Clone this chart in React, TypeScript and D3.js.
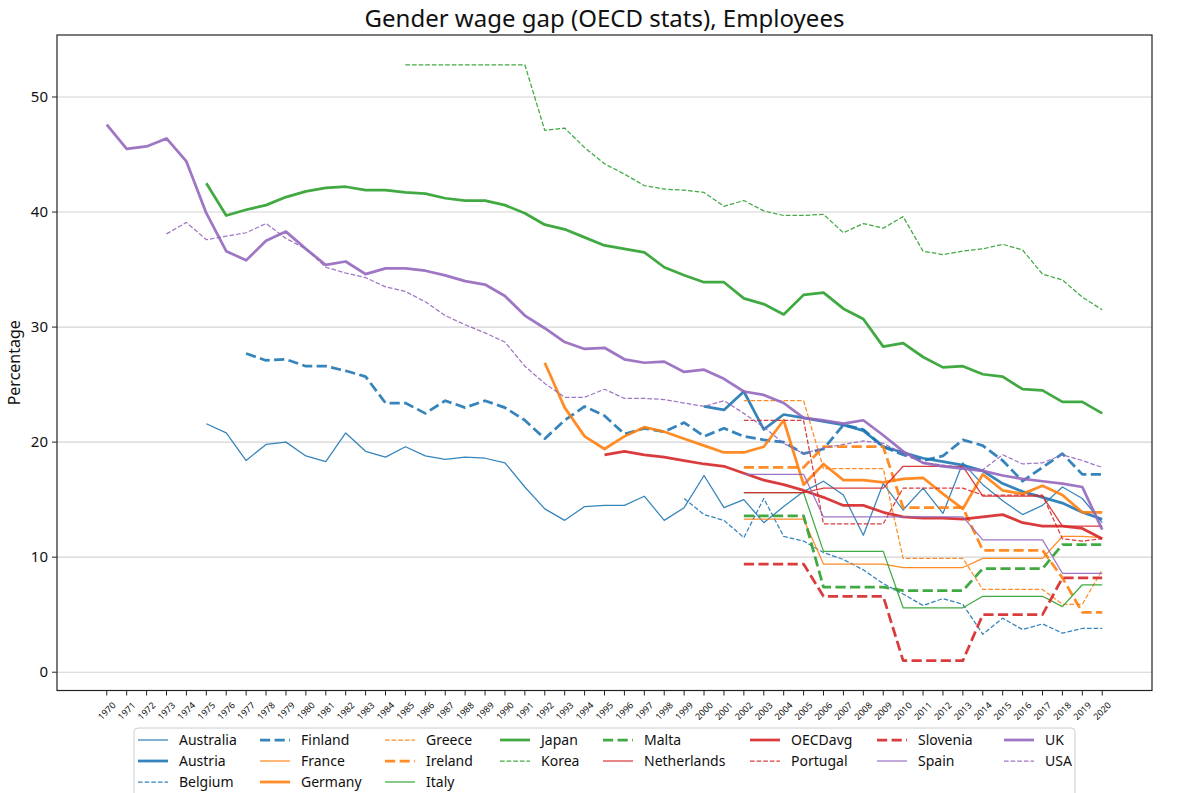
import { useEffect, useRef } from 'react';
import * as d3 from 'd3';

// years on the x axis
const years = d3.range(1970, 2021);
const yTicks = [0, 10, 20, 30, 40, 50];

// gender wage gap (%) per country, each list starts at the given year
const australia = [21.6, 20.8, 18.4, 19.8, 20.0, 18.8, 18.3, 20.8, 19.2, 18.7, 19.6, 18.8, 18.5, 18.7, 18.6, 18.2, 16.1, 14.2, 13.2, 14.4, 14.5, 14.5, 15.3, 13.2, 14.3, 17.1, 14.3, 15.0, 13.0, 14.4, 15.7, 16.6, 15.4, 11.9, 16.4, 14.1, 16.0, 13.8, 18.2, 16.3, 14.9, 13.7, 14.5, 16.1, 15.1, 13.0];
const austria = [23.1, 22.8, 24.4, 21.1, 22.4, 22.1, 21.8, 21.5, 21.0, 19.6, 19.1, 18.6, 18.3, 18.0, 17.5, 16.4, 15.7, 15.2, 14.7, 13.9, 13.3];
const belgium = [15.1, 13.7, 13.2, 11.7, 15.1, 11.8, 11.4, 10.4, 9.8, 8.9, 7.7, 6.8, 5.8, 6.4, 5.9, 3.3, 4.7, 3.7, 4.2, 3.4, 3.8, 3.8];
const finland = [27.7, 27.1, 27.2, 26.6, 26.6, 26.2, 25.7, 23.4, 23.4, 22.5, 23.6, 23.0, 23.6, 23.0, 21.9, 20.3, 21.9, 23.1, 22.3, 20.7, 21.2, 20.9, 21.7, 20.5, 21.2, 20.5, 20.2, 20.0, 19.0, 19.4, 21.5, 21.1, 19.6, 18.9, 18.4, 18.8, 20.2, 19.7, 18.4, 16.6, 17.8, 19.0, 17.2, 17.2];
const france = [13.3, 13.3, 13.3, 13.3, 9.4, 9.4, 9.4, 9.4, 9.1, 9.1, 9.1, 9.1, 9.9, 9.9, 9.9, 9.9, 11.8, 11.8, 11.7];
const germany = [26.9, 23.0, 20.5, 19.4, 20.5, 21.3, 20.9, 20.3, 19.7, 19.1, 19.1, 19.6, 21.9, 16.3, 18.1, 16.7, 16.7, 16.5, 16.8, 16.9, 15.5, 14.2, 17.2, 15.8, 15.5, 16.2, 15.4, 13.9, 13.9];
const greece = [23.6, 23.6, 23.6, 23.6, 17.7, 17.7, 17.7, 17.7, 9.9, 9.9, 9.9, 9.9, 7.2, 7.2, 7.2, 7.2, 5.9, 5.9, 8.9];
const ireland = [17.8, 17.8, 17.8, 17.8, 19.6, 19.6, 19.6, 19.6, 14.3, 14.3, 14.3, 14.3, 10.6, 10.6, 10.6, 10.6, 8.2, 5.2, 5.2];
const italy = [15.6, 15.6, 15.6, 15.6, 10.5, 10.5, 10.5, 10.5, 5.6, 5.6, 5.6, 5.6, 6.6, 6.6, 6.6, 6.6, 5.7, 7.6, 7.6];
const japan = [42.5, 39.7, 40.2, 40.6, 41.3, 41.8, 42.1, 42.2, 41.9, 41.9, 41.7, 41.6, 41.2, 41.0, 41.0, 40.6, 39.9, 38.9, 38.5, 37.8, 37.1, 36.8, 36.5, 35.2, 34.5, 33.9, 33.9, 32.5, 32.0, 31.1, 32.8, 33.0, 31.6, 30.7, 28.3, 28.6, 27.4, 26.5, 26.6, 25.9, 25.7, 24.6, 24.5, 23.5, 23.5, 22.5];
const korea = [52.8, 52.8, 52.8, 52.8, 52.8, 52.8, 52.8, 47.1, 47.3, 45.6, 44.2, 43.3, 42.3, 42.0, 41.9, 41.7, 40.5, 41.0, 40.1, 39.7, 39.7, 39.8, 38.2, 39.0, 38.6, 39.6, 36.6, 36.3, 36.6, 36.8, 37.2, 36.7, 34.6, 34.1, 32.6, 31.5];
const malta = [13.6, 13.6, 13.6, 13.6, 7.4, 7.4, 7.4, 7.4, 7.1, 7.1, 7.1, 7.1, 9.0, 9.0, 9.0, 9.0, 11.1, 11.1, 11.1];
const netherlands = [15.6, 15.6, 15.6, 15.6, 16.0, 16.0, 16.0, 16.0, 17.9, 17.9, 17.9, 17.9, 15.3, 15.3, 15.3, 15.3, 12.7, 12.7, 12.7];
const oecdAvg = [18.9, 19.2, 18.9, 18.7, 18.4, 18.1, 17.9, 17.3, 16.7, 16.3, 15.8, 15.2, 14.5, 14.5, 13.9, 13.5, 13.4, 13.4, 13.3, 13.5, 13.7, 13.0, 12.7, 12.7, 12.5, 11.6];
const portugal = [21.9, 21.9, 21.9, 21.9, 12.9, 12.9, 12.9, 12.9, 16.0, 16.0, 16.0, 16.0, 15.4, 15.4, 15.4, 15.4, 11.6, 11.4, 11.6];
const slovenia = [9.4, 9.4, 9.4, 9.4, 6.6, 6.6, 6.6, 6.6, 1.0, 1.0, 1.0, 1.0, 5.0, 5.0, 5.0, 5.0, 8.2, 8.2, 8.2];
const spain = [17.2, 17.2, 17.2, 17.2, 13.5, 13.5, 13.5, 13.5, 13.5, 13.5, 13.5, 13.5, 11.5, 11.5, 11.5, 11.5, 8.6, 8.6, 8.6];
const uk = [47.6, 45.5, 45.7, 46.4, 44.4, 39.9, 36.6, 35.8, 37.5, 38.3, 36.8, 35.4, 35.7, 34.6, 35.1, 35.1, 34.9, 34.5, 34.0, 33.7, 32.7, 31.0, 29.9, 28.7, 28.1, 28.2, 27.2, 26.9, 27.0, 26.1, 26.3, 25.5, 24.4, 24.1, 23.4, 22.1, 21.9, 21.6, 21.9, 20.6, 19.2, 18.2, 17.9, 17.7, 17.5, 17.1, 16.8, 16.6, 16.4, 16.1, 12.4];
const usa = [38.1, 39.1, 37.6, 37.9, 38.2, 39.0, 37.7, 36.8, 35.2, 34.7, 34.3, 33.5, 33.1, 32.2, 31.0, 30.2, 29.5, 28.7, 26.6, 25.1, 23.9, 23.9, 24.6, 23.8, 23.8, 23.7, 23.4, 23.1, 23.6, 22.5, 21.3, 19.9, 19.0, 19.5, 19.8, 20.1, 19.9, 19.0, 18.2, 18.0, 17.8, 17.6, 18.9, 18.1, 18.2, 18.9, 18.4, 17.8];

const BLUE = '#1f77b4';
const ORANGE = '#ff7f0e';
const GREEN = '#2ca02c';
const RED = '#d62728';
const PURPLE = '#9467bd';

type Kind = 'thin' | 'thick' | 'thinDash' | 'thickDash';

const series: { name: string; start: number; values: number[]; color: string; kind: Kind }[] = [
  { name: 'Australia', start: 1975, values: australia, color: BLUE, kind: 'thin' },
  { name: 'Austria', start: 2000, values: austria, color: BLUE, kind: 'thick' },
  { name: 'Belgium', start: 1999, values: belgium, color: BLUE, kind: 'thinDash' },
  { name: 'Finland', start: 1977, values: finland, color: BLUE, kind: 'thickDash' },
  { name: 'France', start: 2002, values: france, color: ORANGE, kind: 'thin' },
  { name: 'Germany', start: 1992, values: germany, color: ORANGE, kind: 'thick' },
  { name: 'Greece', start: 2002, values: greece, color: ORANGE, kind: 'thinDash' },
  { name: 'Ireland', start: 2002, values: ireland, color: ORANGE, kind: 'thickDash' },
  { name: 'Italy', start: 2002, values: italy, color: GREEN, kind: 'thin' },
  { name: 'Japan', start: 1975, values: japan, color: GREEN, kind: 'thick' },
  { name: 'Korea', start: 1985, values: korea, color: GREEN, kind: 'thinDash' },
  { name: 'Malta', start: 2002, values: malta, color: GREEN, kind: 'thickDash' },
  { name: 'Netherlands', start: 2002, values: netherlands, color: RED, kind: 'thin' },
  { name: 'OECDavg', start: 1995, values: oecdAvg, color: RED, kind: 'thick' },
  { name: 'Portugal', start: 2002, values: portugal, color: RED, kind: 'thinDash' },
  { name: 'Slovenia', start: 2002, values: slovenia, color: RED, kind: 'thickDash' },
  { name: 'Spain', start: 2002, values: spain, color: PURPLE, kind: 'thin' },
  { name: 'UK', start: 1970, values: uk, color: PURPLE, kind: 'thick' },
  { name: 'USA', start: 1973, values: usa, color: PURPLE, kind: 'thinDash' },
];

const style = (kind: Kind) => {
  const w = kind === 'thin' || kind === 'thinDash' ? 1.25 : 2.75;
  const dash = kind === 'thinDash' || kind === 'thickDash' ? `${3.7 * w},${1.6 * w}` : null;
  return { w, dash };
};

const FONT = '"Noto Sans", "DejaVu Sans", sans-serif';

export default function App() {
  const svgRef = useRef<SVGSVGElement>(null);

  useEffect(() => {
    if (!svgRef.current) return;
    const width = 1200;
    const height = 793;
    const plot = { left: 57, right: 1152, top: 35, bottom: 690.5 };

    const svg = d3.select(svgRef.current);
    svg.selectAll('*').remove();
    svg.append('rect').attr('width', width).attr('height', height).attr('fill', '#fff');

    const all = series.flatMap((s) => s.values);
    const lo = d3.min(all) as number;
    const hi = d3.max(all) as number;
    const pad = (hi - lo) * 0.05;

    const x = d3
      .scaleLinear()
      .domain([1970 - 2.5, 2020 + 2.5])
      .range([plot.left, plot.right]);
    const y = d3
      .scaleLinear()
      .domain([lo - pad, hi + pad])
      .range([plot.bottom, plot.top]);

    // grid
    svg
      .append('g')
      .selectAll('line')
      .data(yTicks)
      .enter()
      .append('line')
      .attr('x1', plot.left)
      .attr('x2', plot.right)
      .attr('y1', (d) => y(d))
      .attr('y2', (d) => y(d))
      .attr('stroke', '#d4d4d4')
      .attr('stroke-width', 1.1);

    // lines
    const line = d3
      .line<[number, number]>()
      .x((d) => x(d[0]))
      .y((d) => y(d[1]));

    series.forEach((s) => {
      const { w, dash } = style(s.kind);
      const pts: [number, number][] = s.values.map((v, i) => [s.start + i, v]);
      svg
        .append('path')
        .attr('d', line(pts))
        .attr('fill', 'none')
        .attr('stroke', s.color)
        .attr('stroke-opacity', 0.9)
        .attr('stroke-width', w)
        .attr('stroke-linejoin', 'round')
        .attr('stroke-dasharray', dash);
    });

    // frame
    svg
      .append('rect')
      .attr('x', plot.left)
      .attr('y', plot.top)
      .attr('width', plot.right - plot.left)
      .attr('height', plot.bottom - plot.top)
      .attr('fill', 'none')
      .attr('stroke', '#222')
      .attr('stroke-width', 1.2);

    // y axis
    const yAxis = svg.append('g');
    yTicks.forEach((t) => {
      yAxis
        .append('line')
        .attr('x1', plot.left - 5)
        .attr('x2', plot.left)
        .attr('y1', y(t))
        .attr('y2', y(t))
        .attr('stroke', '#222')
        .attr('stroke-width', 1);
      yAxis
        .append('text')
        .attr('x', plot.left - 9)
        .attr('y', y(t))
        .attr('dy', '0.35em')
        .attr('text-anchor', 'end')
        .style('font-family', FONT)
        .style('font-size', '15px')
        .style('fill', '#111')
        .text(t);
    });

    // x axis
    const xAxis = svg.append('g');
    years.forEach((yr) => {
      xAxis
        .append('line')
        .attr('x1', x(yr))
        .attr('x2', x(yr))
        .attr('y1', plot.bottom)
        .attr('y2', plot.bottom + 5)
        .attr('stroke', '#222')
        .attr('stroke-width', 1);
      const cy = 711;
      xAxis
        .append('text')
        .attr('x', x(yr))
        .attr('y', cy)
        .attr('dy', '0.35em')
        .attr('text-anchor', 'middle')
        .attr('transform', `rotate(-45,${x(yr)},${cy})`)
        .style('font-family', FONT)
        .style('font-size', '9px')
        .style('fill', '#111')
        .text(yr);
    });

    // title and label
    svg
      .append('text')
      .attr('x', (plot.left + plot.right) / 2)
      .attr('y', 27)
      .attr('text-anchor', 'middle')
      .style('font-family', FONT)
      .style('font-size', '24px')
      .style('fill', '#111')
      .text('Gender wage gap (OECD stats), Employees');

    svg
      .append('text')
      .attr('transform', `translate(20,${(plot.top + plot.bottom) / 2}) rotate(-90)`)
      .attr('text-anchor', 'middle')
      .style('font-family', FONT)
      .style('font-size', '16px')
      .style('fill', '#111')
      .text('Percentage');

    // legend: 8 columns, the first three hold three entries, the rest two
    const legend = svg.append('g');
    legend
      .append('rect')
      .attr('x', 134)
      .attr('y', 728)
      .attr('width', 1075 - 134)
      .attr('height', 72)
      .attr('rx', 4)
      .attr('fill', '#fff')
      .attr('fill-opacity', 0.8)
      .attr('stroke', '#cccccc')
      .attr('stroke-width', 1);

    const colText = [179, 301, 426, 541, 644, 791, 918, 1045];
    const colSize = [3, 3, 3, 2, 2, 2, 2, 2];
    const rowY = [740, 761, 782];
    let idx = 0;
    colSize.forEach((n, col) => {
      for (let row = 0; row < n; row++) {
        const s = series[idx++];
        if (!s) return;
        const { w, dash } = style(s.kind);
        const tx = colText[col];
        const ly = rowY[row];
        legend
          .append('line')
          .attr('x1', tx - 41)
          .attr('x2', tx - 11)
          .attr('y1', ly)
          .attr('y2', ly)
          .attr('stroke', s.color)
          .attr('stroke-opacity', 0.9)
          .attr('stroke-width', w)
          .attr('stroke-dasharray', dash);
        legend
          .append('text')
          .attr('x', tx)
          .attr('y', ly)
          .attr('dy', '0.35em')
          .style('font-family', FONT)
          .style('font-size', '14px')
          .style('fill', '#111')
          .text(s.name);
      }
    });

    return () => {
      svg.selectAll('*').remove();
    };
  }, []);

  return (
    <div style={{ position: 'absolute', left: 0, top: 0 }}>
      <svg ref={svgRef} width={1200} height={793} viewBox="0 0 1200 793" style={{ display: 'block' }} />
    </div>
  );
}
